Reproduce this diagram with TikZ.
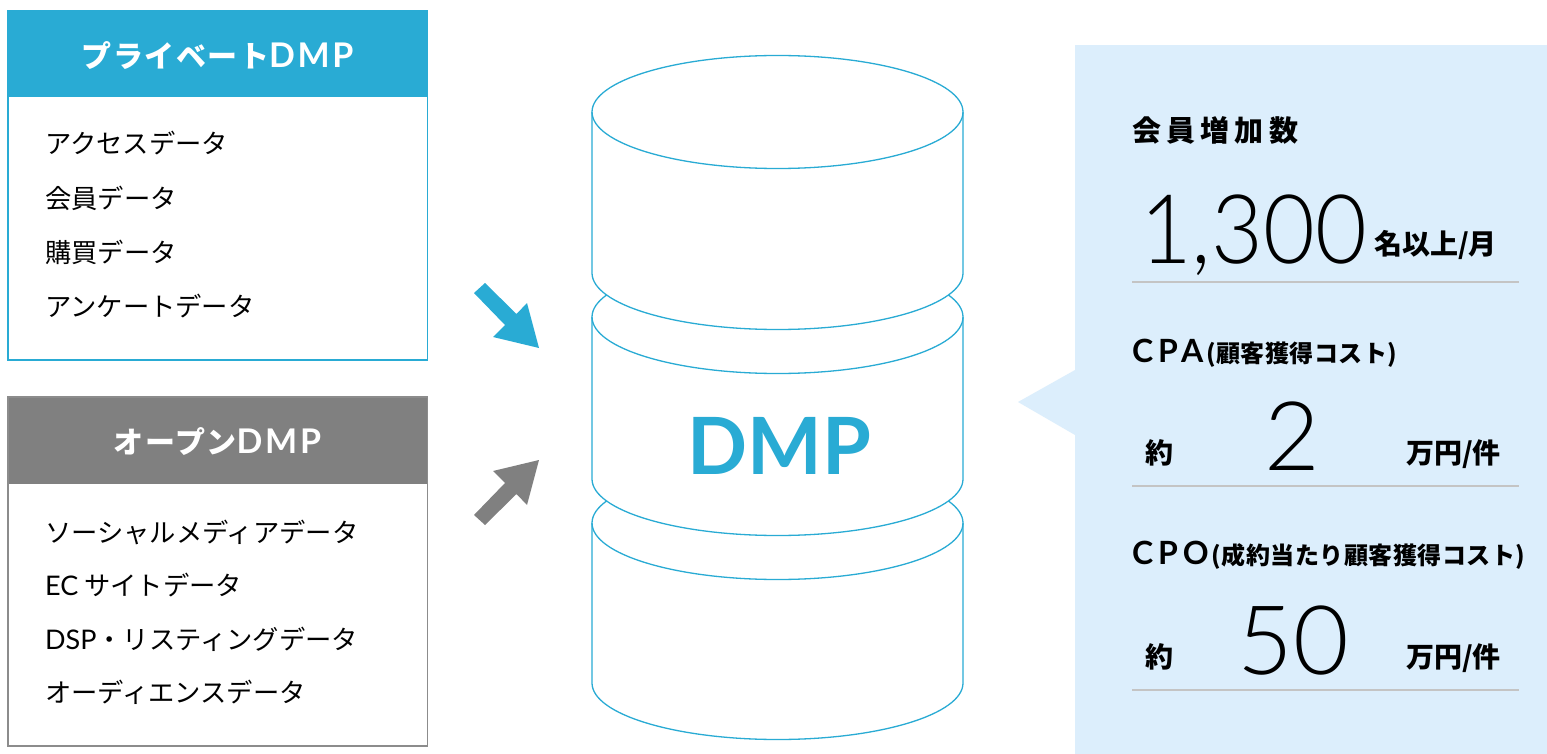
\documentclass[tikz,border=0pt]{standalone}
\usepackage{fontspec}
\newfontfamily\jp{Noto Sans CJK JP}
\newfontfamily\jpsp{Noto Sans CJK JP}[LetterSpace=18]
\newfontfamily\jph{Noto Sans CJK JP}[LetterSpace=5]
\newfontfamily\jpt{Noto Sans CJK JP}[LetterSpace=2]
\newfontfamily\lat{Lato}
\newfontfamily\latl{Lato Light}
\newfontfamily\latsp{Lato}[LetterSpace=15]
\newfontfamily\lath{Lato}[LetterSpace=8]
\definecolor{dmpblue}{HTML}{29ABD4}
\definecolor{dmpgray}{HTML}{808080}
\definecolor{boxgray}{HTML}{8C8C8C}
\definecolor{panelbg}{HTML}{DCEEFC}
\definecolor{rulegray}{HTML}{C4C4C4}
\tikzset{
  itemtxt/.style={anchor=west, inner sep=0pt, text height=23pt, text depth=3pt,
    font=\fontsize{26.3}{30}\selectfont\jp},
  headtxt/.style={anchor=base, inner sep=0pt, text=white, font=\fontsize{30}{36}\selectfont},
  cyl/.style={draw=dmpblue, fill=white, line width=1.3pt},
  cylline/.style={draw=dmpblue, line width=1.3pt},
  ttl/.style={anchor=west, inner sep=0pt, text height=26pt, text depth=4pt},
  unit/.style={anchor=west, inner sep=0pt, text height=24pt, text depth=3pt,
    font=\fontsize{28}{32}\selectfont\jp\bfseries},
  bignum/.style={inner sep=0pt, font=\fontsize{96}{110}\selectfont\latl},
  sep/.style={draw=rulegray, line width=1.2pt},
}
\begin{document}
\begin{tikzpicture}[x=1pt,y=-1pt]
\useasboundingbox (0,0) rectangle (1547,754);
\fill[white] (0,0) rectangle (1547,754);

% ---- private DMP box
\fill[dmpblue] (8,11) rectangle (427.5,97.5);
\draw[dmpblue, line width=1.2pt] (8,11) rectangle (427.5,360);
\node[headtxt] (h1) at (217.5,68) {{\jph\bfseries プライベート}{\fontsize{34}{40}\selectfont\lath\bfseries DMP}};
\node[itemtxt] (p1) at (45,144) {アクセスデータ};
\node[itemtxt] (p2) at (45,198) {会員データ};
\node[itemtxt] (p3) at (45,252) {購買データ};
\node[itemtxt] (p4) at (45,306) {アンケートデータ};

% ---- open DMP box
\fill[dmpgray] (8,397) rectangle (427.5,484);
\draw[boxgray, line width=1.2pt] (8,397) rectangle (427.5,746);
\node[headtxt] (h2) at (217.5,453.5) {{\jph\bfseries オープン}{\fontsize{34}{40}\selectfont\lath\bfseries DMP}};
\node[itemtxt] (o1) at (45,532) {ソーシャルメディアデータ};
\node[itemtxt] (o2) at (45,585) {{\fontsize{27}{30}\selectfont\lat EC} サイトデータ};
\node[itemtxt] (o3) at (45,639) {{\fontsize{27}{30}\selectfont\lat DSP}・リスティングデータ};
\node[itemtxt] (o4) at (45,692) {オーディエンスデータ};

% ---- arrows
\fill[dmpblue] (474,293) -- (485,283) -- (516.5,314) -- (527,303) -- (539,348) -- (493,337) -- (505,325) -- cycle;
\fill[dmpgray] (474,515) -- (485,525) -- (516.5,494) -- (527,505) -- (539,460) -- (493,471) -- (505,483) -- cycle;

% ---- cylinder (three stacked discs)
\def\cx{777.5}\def\rx{185.5}\def\ry{56.5}
\foreach \yt/\yb in {523/683, 317/479, 112/273}{
  \path[cyl] (\cx-\rx,\yt) -- (\cx-\rx,\yb)
     arc[start angle=180, end angle=0, x radius=\rx, y radius=\ry]
     -- (\cx+\rx,\yt)
     arc[start angle=0, end angle=-180, x radius=\rx, y radius=\ry] -- cycle;
  \draw[cylline] (\cx-\rx,\yt) arc[start angle=180, end angle=0, x radius=\rx, y radius=\ry];
}
\node[anchor=base, inner sep=0pt, text=dmpblue, font=\fontsize{79}{90}\selectfont\lat\bfseries] (dmp) at (779.5,474) {DMP};

% ---- result panel
\fill[panelbg] (1075,45) rectangle (1547,754);
\fill[panelbg] (1075,370) -- (1018,402) -- (1075,435) -- cycle;

\node[ttl, font=\fontsize{29}{32}\selectfont\jpsp\bfseries] (t1) at (1132,131) {会員増加数};
\node[bignum, anchor=base west, xscale=0.93] (n1) at (1140,263) {1,300};
\node[unit] (u1) at (1374,244) {名以上/月};
\draw[sep] (1132,282) -- (1519,282);

\node[ttl] (t2) at (1132,351) {{\fontsize{32}{34}\selectfont\latsp\bfseries CPA}\hspace{3pt}{\fontsize{24}{28}\selectfont\jpt\bfseries (顧客獲得コスト)}};
\node[unit] (a2) at (1145,453) {約};
\node[bignum, anchor=base] (n2) at (1292,470) {2};
\node[unit] (u2) at (1406,453) {万円/件};
\draw[sep] (1132,486) -- (1519,486);

\node[ttl] (t3) at (1132,553) {{\fontsize{32}{34}\selectfont\latsp\bfseries CPO}\hspace{3pt}{\fontsize{24}{28}\selectfont\jpt\bfseries (成約当たり顧客獲得コスト)}};
\node[unit] (a3) at (1145,657) {約};
\node[bignum, anchor=base] (n3) at (1293,674) {50};
\node[unit] (u3) at (1406,657) {万円/件};
\draw[sep] (1132,690) -- (1519,690);
\end{tikzpicture}
\end{document}
